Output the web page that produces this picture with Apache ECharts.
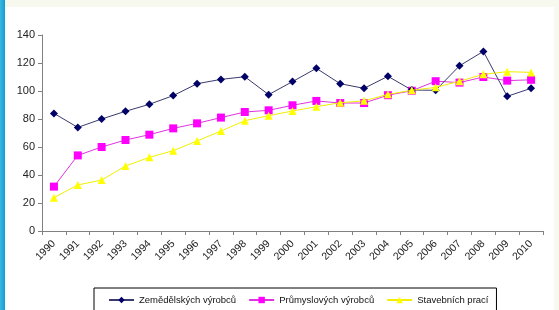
<!DOCTYPE html>
<html>
<head>
<meta charset="utf-8">
<script src="https://cdn.jsdelivr.net/npm/echarts@6/dist/echarts.min.js"></script>
<style>
  html, body { margin: 0; padding: 0; background: #f7f9ef; }
  #chart { width: 559px; height: 310px; }
</style>
</head>
<body>
<div id="chart"></div>
<script>
// roky
const years = ['1990','1991','1992','1993','1994','1995','1996','1997','1998','1999','2000',
  '2001','2002','2003','2004','2005','2006','2007','2008','2009','2010'];
// indexy cen
const zemedelske = [84, 74, 80, 85.5, 90.5, 96.7, 105.2, 108.3, 110.2, 97.4, 106.7,
  116.2, 105.2, 101.9, 110.5, 100.7, 100.5, 118, 128.3, 96.2, 101.9];
const prumyslove = [31.7, 54, 60, 65, 68.8, 73.3, 76.9, 81, 85, 86.2, 89.8,
  92.9, 91.4, 91.4, 97, 100.2, 107, 106, 110, 107.4, 108];
const stavebni = [23.8, 32.9, 36.4, 46.4, 52.6, 57.4, 64.3, 71.4, 78.8, 82.4, 85.7,
  88.8, 91.6, 93, 97.6, 100.5, 102.6, 107, 111.9, 113.8, 113.3];
const names = ['Zemědělských výrobců', 'Průmyslových výrobců', 'Stavebních prací'];

const chart = echarts.init(document.getElementById('chart'));

const font = 'Liberation Sans, Arial, sans-serif';

const option = {
  animation: false,
  backgroundColor: 'transparent',
  graphic: [
    // podklad snímku
    { type: 'rect', z: -10, shape: { x: 0, y: 0, width: 5, height: 310 },
      style: { fill: new echarts.graphic.LinearGradient(0, 0, 1, 0, [
        { offset: 0, color: '#3fb6e0' }, { offset: 1, color: '#0e9fd2' }]) } },
    { type: 'rect', z: -10, shape: { x: 5, y: 7, width: 549, height: 303 },
      style: { fill: '#ffffff' } }
  ],
  legend: {
    data: names,
    left: 94,
    top: 288,
    itemWidth: 25,
    itemHeight: 8,
    itemGap: 12,
    padding: [7, 8, 10, 14],
    borderColor: '#000',
    borderWidth: 1,
    borderRadius: 0,
    backgroundColor: '#fff',
    textStyle: { fontFamily: font, fontSize: 9.5, color: '#111' }
  },
  grid: { left: 42, right: 16, top: 35, bottom: 79 },
  xAxis: {
    type: 'category',
    data: years,
    boundaryGap: true,
    axisLine: { lineStyle: { color: '#808080' } },
    axisTick: { show: true, length: 4, lineStyle: { color: '#808080' } },
    axisLabel: { rotate: 45, interval: 0, fontFamily: font, fontSize: 10.5, color: '#222', margin: 11 }
  },
  yAxis: {
    type: 'value',
    min: 0,
    max: 140,
    interval: 20,
    axisLine: { show: true, lineStyle: { color: '#808080' } },
    axisTick: { show: true, length: 4, lineStyle: { color: '#808080' } },
    splitLine: { show: false },
    axisLabel: { fontFamily: font, fontSize: 11, color: '#222', margin: 7 }
  },
  series: [
    {
      name: names[0], type: 'line', data: zemedelske,
      symbol: 'diamond', symbolSize: 8,
      lineStyle: { color: '#3a3a6e', width: 1 },
      itemStyle: { color: '#000066' },
      z: 3
    },
    {
      name: names[1], type: 'line', data: prumyslove,
      symbol: 'rect', symbolSize: 8,
      lineStyle: { color: '#e033e0', width: 1 },
      itemStyle: { color: '#ff00ff' },
      z: 2
    },
    {
      name: names[2], type: 'line', data: stavebni,
      symbol: 'triangle', symbolSize: 8,
      lineStyle: { color: '#f0f000', width: 1 },
      itemStyle: { color: '#ffff00' },
      z: 4
    }
  ]
};

chart.setOption(option);
</script>
</body>
</html>
